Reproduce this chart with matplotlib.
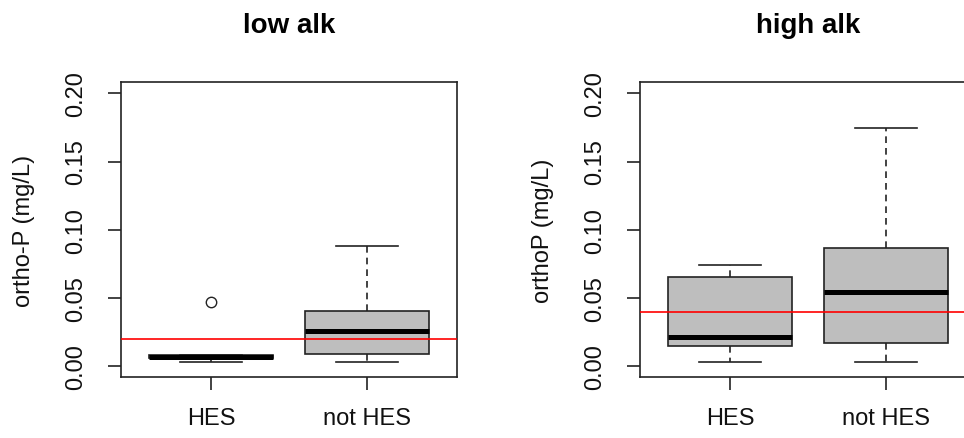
#!/usr/bin/env python3
"""Boxplots of ortho-P for HES vs not HES sites, split by low/high alkalinity."""
import matplotlib
matplotlib.use("Agg")
import matplotlib.pyplot as plt

plt.rcParams["font.family"] = ["Liberation Sans", "DejaVu Sans"]

groups = ["HES", "not HES"]

# box stats (mg/L)
low_whislo = [0.0034, 0.0034]
low_q1 = [0.0058, 0.0088]
low_med = [0.0072, 0.0258]
low_q3 = [0.0086, 0.0404]
low_whishi = [0.0086, 0.0878]
low_fliers = [[0.047], []]
low_threshold = 0.02

high_whislo = [0.0034, 0.0034]
high_q1 = [0.0146, 0.0168]
high_med = [0.0216, 0.0542]
high_q3 = [0.0652, 0.0869]
high_whishi = [0.0744, 0.1747]
high_fliers = [[], []]
high_threshold = 0.04

yticks = [0.00, 0.05, 0.10, 0.15, 0.20]


def make_stats(whislo, q1, med, q3, whishi, fliers):
    return [dict(whislo=a, q1=b, med=c, q3=d, whishi=e, fliers=f, label=g)
            for a, b, c, d, e, f, g in zip(whislo, q1, med, q3, whishi, fliers, groups)]


def draw_panel(ax, stats, threshold, title, ylabel):
    lw = 1.2
    edge = "#222222"
    ax.bxp(stats, positions=[1, 2], widths=0.8, capwidths=0.4, patch_artist=True,
           boxprops=dict(facecolor="#bebebe", edgecolor=edge, linewidth=lw),
           medianprops=dict(color="black", linewidth=3.6, solid_capstyle="butt"),
           whiskerprops=dict(color=edge, linewidth=lw, linestyle=(0, (4, 3))),
           capprops=dict(color=edge, linewidth=lw),
           flierprops=dict(marker="o", markerfacecolor="none", markeredgecolor=edge,
                           markersize=7.5, markeredgewidth=1.0))
    ax.axhline(threshold, color="red", linewidth=1.2, zorder=5)
    ax.set_xlim(0.42, 2.58)
    ax.set_ylim(-0.008, 0.208)
    ax.set_yticks(yticks)
    ax.set_yticklabels([f"{v:.2f}" for v in yticks])
    ax.set_xticks([1, 2])
    ax.set_xticklabels(groups)
    ax.tick_params(axis="both", direction="out", length=9.6, width=lw, labelsize=17,
                   color=edge, labelcolor="#111111")
    ax.tick_params(axis="y", pad=15, labelrotation=90)
    ax.tick_params(axis="x", pad=12)
    for lab in ax.get_yticklabels():
        lab.set_va("center")
    for sp in ax.spines.values():
        sp.set_linewidth(lw)
        sp.set_color(edge)
    ax.set_title(title, fontsize=20, fontweight="bold", pad=36)
    ax.set_ylabel(ylabel, fontsize=17, color="#111111")
    ax.yaxis.set_label_coords(-0.255, 0.5)


fig = plt.figure(figsize=(9.64, 4.39), dpi=100)
ax1 = fig.add_axes([121 / 964, 1 - 378.3 / 439, 336 / 964, 295 / 439])
ax2 = fig.add_axes([640 / 964, 1 - 378.3 / 439, 336 / 964, 295 / 439])

draw_panel(ax1, make_stats(low_whislo, low_q1, low_med, low_q3, low_whishi, low_fliers),
           low_threshold, "low alk", "ortho-P (mg/L)")
draw_panel(ax2, make_stats(high_whislo, high_q1, high_med, high_q3, high_whishi, high_fliers),
           high_threshold, "high alk", "orthoP (mg/L)")

fig.savefig("out.png", dpi=100)
